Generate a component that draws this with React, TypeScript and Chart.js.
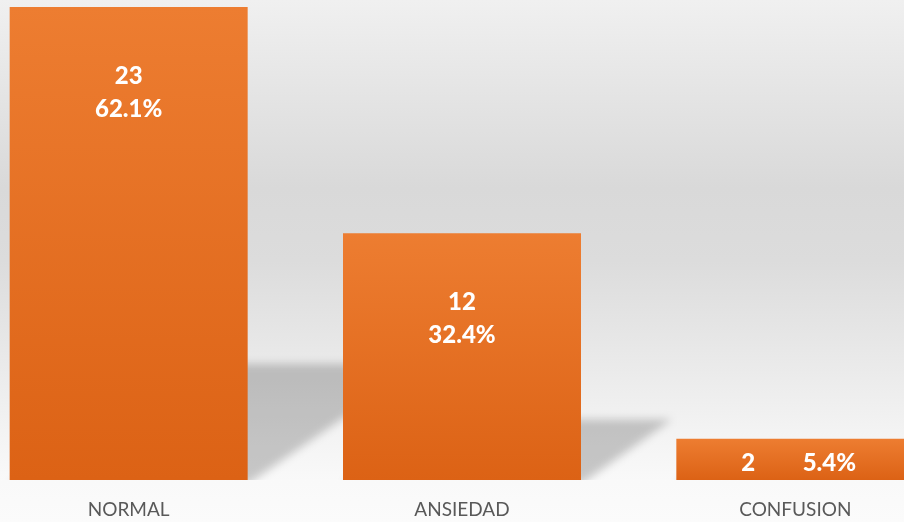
import React, { useEffect, useRef } from "react";
import { Chart, registerables } from "chart.js";

Chart.register(...registerables);

const categories: string[] = ["NORMAL", "ANSIEDAD", "CONFUSION"];
const counts: number[] = [23, 12, 2];
const percents: string[] = ["62.1%", "32.4%", "5.4%"];
const yMax = 23;

const LABEL_FONT = "Lato, 'Open Sans', 'DejaVu Sans', sans-serif";

const backgroundPlugin = {
  id: "bgGradient",
  beforeDraw(chart: any) {
    const { ctx, width, height } = chart;
    const g = ctx.createLinearGradient(0, 0, 0, height);
    g.addColorStop(0, "#f0f0f0");
    g.addColorStop(0.36, "#d9d9d9");
    g.addColorStop(0.5, "#dcdcdc");
    g.addColorStop(0.84, "#f4f4f4");
    g.addColorStop(0.92, "#f9f9f9");
    g.addColorStop(1, "#fbfbfb");
    ctx.save();
    ctx.fillStyle = g;
    ctx.fillRect(0, 0, width, height);
    ctx.restore();
  },
};

const shadowPlugin = {
  id: "barShadow",
  beforeDatasetsDraw(chart: any) {
    const { ctx } = chart;
    const meta = chart.getDatasetMeta(0);
    ctx.save();
    meta.data.forEach((bar: any) => {
      const w = bar.width;
      const L = bar.x - w / 2;
      const R = bar.x + w / 2;
      const base = bar.base;
      const h = base - bar.y;
      const sh = h * 0.245;
      const shift = sh * 1.5;
      ctx.save();
      ctx.beginPath();
      ctx.rect(L - 20, 0, w + shift + 60, base);
      ctx.clip();
      ctx.filter = "blur(4px)";
      ctx.fillStyle = "rgba(0,0,0,0.2)";
      ctx.beginPath();
      ctx.moveTo(L, base + 4);
      ctx.lineTo(R, base + 4);
      ctx.lineTo(R + shift, base - sh);
      ctx.lineTo(L + shift, base - sh);
      ctx.closePath();
      ctx.fill();
      ctx.restore();
    });
    ctx.restore();
  },
};

const labelPlugin = {
  id: "barLabels",
  afterDatasetsDraw(chart: any) {
    const { ctx } = chart;
    const meta = chart.getDatasetMeta(0);
    ctx.save();
    ctx.fillStyle = "#ffffff";
    ctx.font = `900 24px ${LABEL_FONT}`;
    ctx.textAlign = "center";
    ctx.textBaseline = "middle";
    meta.data.forEach((bar: any, i: number) => {
      const h = bar.base - bar.y;
      if (h > 90) {
        ctx.fillText(String(counts[i]), bar.x, bar.y + 69);
        ctx.fillText(percents[i], bar.x, bar.y + 102);
      } else {
        const cy = (bar.y + bar.base) / 2 + 4;
        ctx.fillText(String(counts[i]), bar.x - 47, cy);
        ctx.fillText(percents[i], bar.x + 34, cy);
      }
    });
    ctx.restore();
  },
};

export default function App() {
  const ref = useRef<HTMLCanvasElement | null>(null);

  useEffect(() => {
    if (!ref.current) return;
    const chart = new Chart(ref.current, {
      type: "bar",
      data: {
        labels: categories,
        datasets: [
          {
            data: counts,
            backgroundColor: (c: any) => {
              const ch = c.chart;
              const ys = ch.scales?.y;
              if (!ys || c.dataIndex === undefined) return "#e8722a";
              const top = ys.getPixelForValue(counts[c.dataIndex]);
              const bot = ys.getPixelForValue(0);
              if (!Number.isFinite(top) || !Number.isFinite(bot) || top === bot) return "#e8722a";
              const g = ch.ctx.createLinearGradient(0, top, 0, bot);
              g.addColorStop(0, "#ed7d31");
              g.addColorStop(1, "#dc6215");
              return g;
            },
            borderWidth: 0,
            categoryPercentage: 1,
            barPercentage: 0.714,
          },
        ],
      },
      options: {
        responsive: false,
        animation: false,
        devicePixelRatio: 1,
        layout: { padding: { top: 7, left: 0, right: 0, bottom: 0 } },
        plugins: {
          legend: { display: false },
          tooltip: { enabled: false },
        },
        scales: {
          x: {
            grid: { display: false },
            border: { display: false },
            ticks: {
              color: "#595959",
              font: { family: LABEL_FONT, size: 19 },
              padding: 10,
              maxRotation: 0,
            },
            afterFit: (scale: any) => {
              scale.height = 42;
            },
          },
          y: {
            display: false,
            min: 0,
            max: yMax,
          },
        },
      },
      plugins: [backgroundPlugin, shadowPlugin, labelPlugin],
    });
    return () => chart.destroy();
  }, []);

  return (
    <div
      style={{
        position: "fixed",
        left: 0,
        top: 0,
        width: 904,
        height: 522,
        overflow: "hidden",
        background: "#fafafa",
      }}
    >
      <canvas
        ref={ref}
        width={1000}
        height={522}
        style={{ position: "absolute", left: -38, top: 0, width: 1000, height: 522 }}
      />
    </div>
  );
}
